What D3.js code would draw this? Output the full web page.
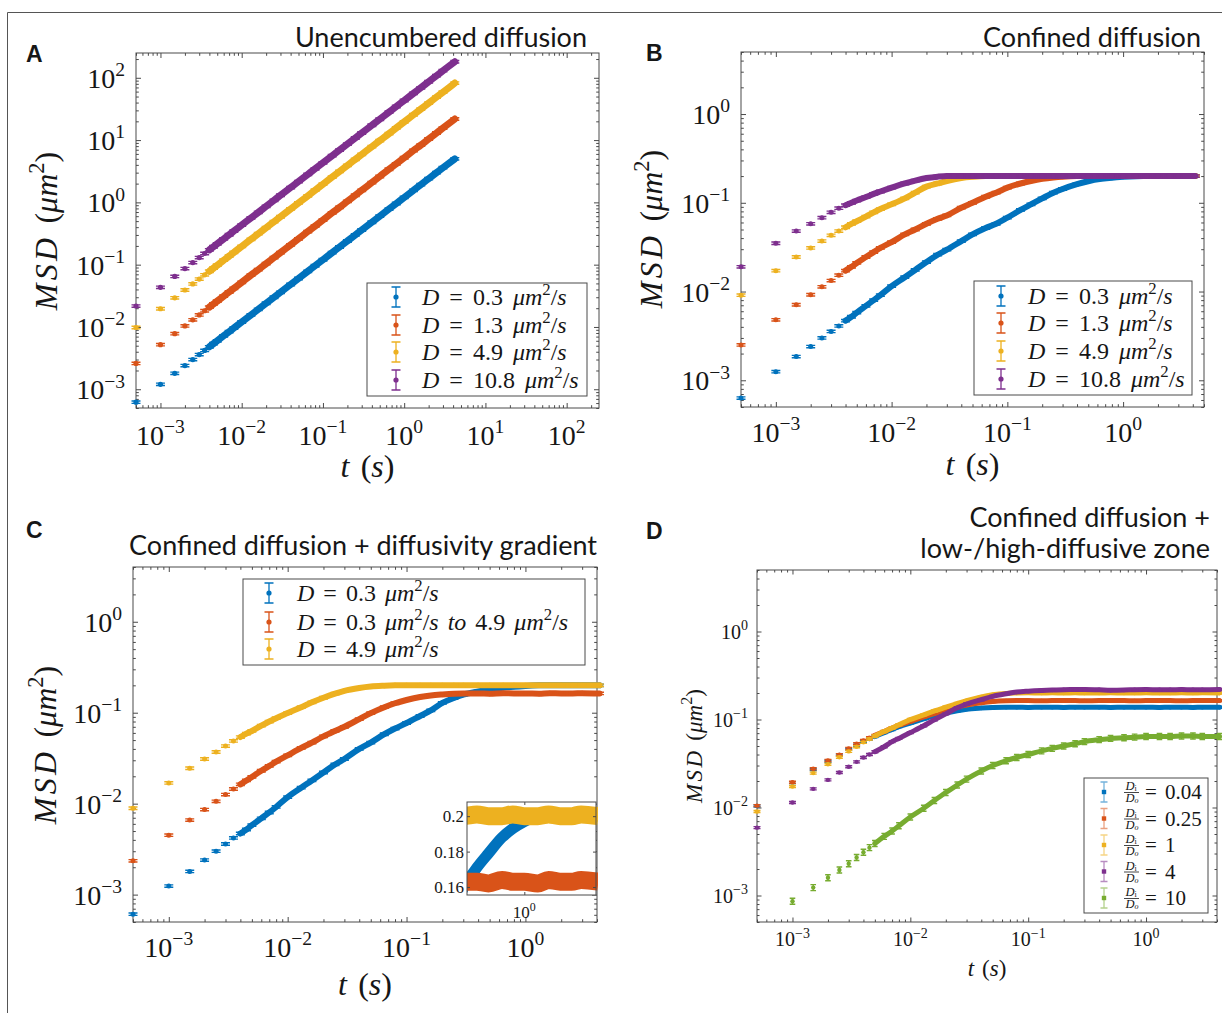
<!DOCTYPE html>
<html>
<head>
<meta charset="utf-8">
<script src="https://cdn.jsdelivr.net/npm/d3@7"></script>
<style>
  body { margin: 0; background: #fff; }
  svg text { fill: #161616; }
</style>
</head>
<body>
<svg id="fig" width="1222" height="1013"></svg>
<script>
// lag times (s), shared by all panels
var times = [0.0005, 0.001, 0.0015, 0.002, 0.0025, 0.003, 0.0035, 0.004, 0.0045, 0.005,
  0.006, 0.007, 0.008, 0.01, 0.013, 0.016, 0.02, 0.025, 0.03, 0.04,
  0.05, 0.065, 0.08, 0.1, 0.13, 0.16, 0.2, 0.25, 0.3, 0.4,
  0.5, 0.65, 0.8, 1, 1.3, 1.6, 2, 2.5, 3, 4.2];

var colors = ["#0072BD", "#D95319", "#EDB120", "#7E2F8E", "#77AC30"];

// A: unencumbered diffusion, MSD (um^2)
var aCoefs = ["0.3", "1.3", "4.9", "10.8"];
var aBlue = [6.2e-4, 1.2e-3, 1.8e-3, 2.4e-3, 3.0e-3, 3.6e-3, 4.2e-3, 4.8e-3, 5.4e-3, 6.0e-3,
  7.2e-3, 8.4e-3, 9.6e-3, 0.012, 0.0156, 0.0192, 0.024, 0.030, 0.036, 0.048,
  0.060, 0.078, 0.096, 0.12, 0.156, 0.192, 0.24, 0.30, 0.36, 0.48,
  0.60, 0.78, 0.96, 1.2, 1.56, 1.92, 2.4, 3.0, 3.6, 5.0];
var aRed = [2.6e-3, 5.2e-3, 7.8e-3, 0.0104, 0.013, 0.0156, 0.0182, 0.0208, 0.0234, 0.026,
  0.0312, 0.0364, 0.0416, 0.052, 0.068, 0.083, 0.104, 0.13, 0.156, 0.208,
  0.26, 0.34, 0.416, 0.52, 0.68, 0.83, 1.04, 1.3, 1.56, 2.08,
  2.6, 3.4, 4.16, 5.2, 6.8, 8.3, 10.4, 13, 15.6, 21.8];
var aYellow = [9.8e-3, 0.0196, 0.0294, 0.0392, 0.049, 0.0588, 0.0686, 0.0784, 0.088, 0.098,
  0.118, 0.137, 0.157, 0.196, 0.255, 0.314, 0.392, 0.49, 0.588, 0.784,
  0.98, 1.27, 1.57, 1.96, 2.55, 3.14, 3.92, 4.9, 5.88, 7.84,
  9.8, 12.7, 15.7, 19.6, 25.5, 31.4, 39.2, 49, 58.8, 82.3];
var aPurple = [0.0216, 0.0432, 0.0648, 0.0864, 0.108, 0.13, 0.151, 0.173, 0.194, 0.216,
  0.259, 0.302, 0.346, 0.432, 0.562, 0.691, 0.864, 1.08, 1.3, 1.73,
  2.16, 2.81, 3.46, 4.32, 5.62, 6.91, 8.64, 10.8, 13, 17.3,
  21.6, 28.1, 34.6, 43.2, 56.2, 69.1, 86.4, 108, 130, 181];

// B: confined diffusion
var bBlue = [6.3e-4, 1.25e-3, 1.85e-3, 2.4e-3, 3.0e-3, 3.55e-3, 4.1e-3, 4.7e-3, 5.2e-3, 5.8e-3,
  6.9e-3, 8.0e-3, 9.1e-3, 0.0115, 0.0145, 0.0175, 0.0215, 0.026, 0.0296, 0.037,
  0.044, 0.052, 0.058, 0.068, 0.083, 0.096, 0.112, 0.13, 0.143, 0.162,
  0.175, 0.186, 0.192, 0.196, 0.199, 0.2, 0.201, 0.2, 0.2, 0.2];
var bRed = [2.5e-3, 4.8e-3, 7.1e-3, 9.2e-3, 0.0113, 0.0133, 0.0153, 0.0172, 0.019, 0.021,
  0.0245, 0.0278, 0.031, 0.036, 0.044, 0.05, 0.058, 0.066, 0.072, 0.088,
  0.1, 0.117, 0.13, 0.148, 0.165, 0.176, 0.186, 0.193, 0.197, 0.2,
  0.2, 0.201, 0.2, 0.2, 0.201, 0.2, 0.2, 0.201, 0.2, 0.2];
var bYellow = [9.1e-3, 0.0172, 0.0245, 0.031, 0.037, 0.043, 0.048, 0.053, 0.058, 0.062,
  0.07, 0.078, 0.085, 0.096, 0.112, 0.13, 0.152, 0.165, 0.176, 0.19,
  0.196, 0.2, 0.2, 0.201, 0.2, 0.2, 0.201, 0.2, 0.2, 0.2,
  0.201, 0.2, 0.2, 0.2, 0.201, 0.2, 0.2, 0.2, 0.201, 0.2];
var bPurple = [0.019, 0.035, 0.048, 0.058, 0.068, 0.078, 0.087, 0.094, 0.1, 0.106,
  0.116, 0.126, 0.134, 0.148, 0.165, 0.178, 0.19, 0.197, 0.2, 0.2,
  0.201, 0.2, 0.2, 0.2, 0.201, 0.2, 0.2, 0.2, 0.2, 0.201,
  0.2, 0.2, 0.2, 0.201, 0.2, 0.2, 0.2, 0.2, 0.2, 0.2];

// C: confined diffusion + diffusivity gradient
var cBlue = [6.1e-4, 1.24e-3, 1.8e-3, 2.4e-3, 3.0e-3, 3.6e-3, 4.2e-3, 4.7e-3, 5.2e-3, 5.8e-3,
  6.9e-3, 8.0e-3, 9.2e-3, 0.0118, 0.015, 0.018, 0.022, 0.027, 0.031, 0.04,
  0.047, 0.058, 0.067, 0.077, 0.092, 0.106, 0.128, 0.145, 0.158, 0.171,
  0.179, 0.188, 0.193, 0.197, 0.2, 0.201, 0.201, 0.2, 0.201, 0.2];
var cRed = [2.35e-3, 4.5e-3, 6.6e-3, 8.6e-3, 0.0106, 0.0126, 0.0145, 0.0163, 0.018, 0.0197,
  0.023, 0.026, 0.029, 0.034, 0.041, 0.047, 0.055, 0.063, 0.07, 0.085,
  0.099, 0.115, 0.127, 0.138, 0.149, 0.155, 0.159, 0.162, 0.163, 0.163,
  0.162, 0.164, 0.163, 0.163, 0.162, 0.164, 0.163, 0.163, 0.164, 0.163];
var cYellow = [8.9e-3, 0.0169, 0.0245, 0.031, 0.037, 0.043, 0.049, 0.054, 0.059, 0.063,
  0.072, 0.08, 0.087, 0.099, 0.115, 0.13, 0.146, 0.162, 0.174, 0.187,
  0.194, 0.198, 0.2, 0.201, 0.2, 0.2, 0.201, 0.2, 0.2, 0.201,
  0.2, 0.2, 0.201, 0.2, 0.2, 0.201, 0.2, 0.2, 0.201, 0.2];

// D: confined diffusion + low-/high-diffusive zone, ratio Di/Do
var dRatios = ["0.04", "0.25", "1", "4", "10"];
var dBlue = [0.0104, 0.0192, 0.027, 0.0335, 0.0395, 0.046, 0.051, 0.056, 0.06, 0.064,
  0.071, 0.077, 0.083, 0.091, 0.102, 0.11, 0.118, 0.126, 0.131, 0.135,
  0.137, 0.138, 0.138, 0.137, 0.138, 0.138, 0.137, 0.138, 0.138, 0.138,
  0.137, 0.138, 0.138, 0.138, 0.137, 0.138, 0.138, 0.137, 0.138, 0.138];
var dRed = [0.0105, 0.0194, 0.0276, 0.0342, 0.0397, 0.047, 0.053, 0.058, 0.062, 0.066,
  0.073, 0.08, 0.086, 0.095, 0.107, 0.117, 0.128, 0.139, 0.146, 0.155,
  0.16, 0.163, 0.164, 0.164, 0.163, 0.164, 0.164, 0.164, 0.163, 0.164,
  0.164, 0.164, 0.163, 0.164, 0.164, 0.164, 0.163, 0.164, 0.164, 0.164];
var dYellow = [9.0e-3, 0.0173, 0.0246, 0.031, 0.0373, 0.0434, 0.049, 0.055, 0.06, 0.065,
  0.073, 0.08, 0.087, 0.1, 0.113, 0.125, 0.138, 0.152, 0.164, 0.181,
  0.191, 0.198, 0.2, 0.201, 0.2, 0.201, 0.2, 0.201, 0.2, 0.2,
  0.201, 0.2, 0.2, 0.201, 0.2, 0.2, 0.201, 0.2, 0.201, 0.2];
var dPurple = [5.9e-3, 0.0114, 0.0163, 0.0206, 0.025, 0.029, 0.033, 0.037, 0.04, 0.043,
  0.049, 0.056, 0.061, 0.071, 0.085, 0.099, 0.116, 0.136, 0.15, 0.168,
  0.183, 0.196, 0.205, 0.21, 0.214, 0.216, 0.218, 0.219, 0.22, 0.218,
  0.215, 0.216, 0.218, 0.219, 0.218, 0.218, 0.219, 0.218, 0.218, 0.219];
var dGreen = [null, 8.6e-4, 1.23e-3, 1.59e-3, 1.95e-3, 2.3e-3, 2.7e-3, 3.1e-3, 3.5e-3, 3.9e-3,
  4.7e-3, 5.4e-3, 6.2e-3, 7.8e-3, 9.8e-3, 0.012, 0.0148, 0.018, 0.021, 0.026,
  0.03, 0.034, 0.037, 0.04, 0.044, 0.047, 0.05, 0.053, 0.056, 0.059,
  0.061, 0.062, 0.063, 0.064, 0.064, 0.064, 0.065, 0.065, 0.064, 0.064];

// inset of C
var insetYTicks = [0.16, 0.18, 0.2];

var svg = d3.select("#fig");
var serif = "'Liberation Serif', 'Times New Roman', serif";
var sans = "Lato, 'Open Sans', sans-serif";
var axisColor = "#4a4a4a";

// outer frame (partly cropped)
svg.append("path").attr("d", "M7.5,1013 V12.5 H1222").attr("fill", "none").attr("stroke", "#555").attr("stroke-width", 1);

function minorTicks(domain) {
  var out = [];
  var lo = Math.floor(Math.log10(domain[0])), hi = Math.ceil(Math.log10(domain[1]));
  for (var e = lo; e <= hi; e++) {
    for (var m = 2; m < 10; m++) {
      var v = m * Math.pow(10, e);
      if (v >= domain[0] && v <= domain[1]) out.push(v);
    }
  }
  return out;
}

// text made of pieces: "i:..." italic, "^..." superscript, else roman
function rich(t, pieces, fs) {
  var up = false;
  pieces.forEach(function (p) {
    var s = t.append("tspan");
    if (p[0] === "^") {
      s.text(p.slice(1)).attr("font-size", fs * 0.7).attr("dy", -fs * 0.42);
      up = true;
      return;
    }
    if (up) { s.attr("dy", fs * 0.42); up = false; }
    if (p.indexOf("i:") === 0) s.attr("font-style", "italic").text(p.slice(2));
    else s.text(p);
  });
}

function powText(e) { return ["10", "^" + (e < 0 ? "\u2212" + (-e) : e)]; }

function drawAxes(g, x, y, p) {
  var w = p.right - p.left, h = p.bottom - p.top;
  var xMaj = p.xExp.map(function (e) { return Math.pow(10, e); });
  var yMaj = p.yExp.map(function (e) { return Math.pow(10, e); });
  var xMin = minorTicks(x.domain()), yMin = minorTicks(y.domain());
  var specs = [
    [d3.axisBottom(x), "translate(0," + p.bottom + ")", xMaj, xMin],
    [d3.axisTop(x), "translate(0," + p.top + ")", xMaj, xMin],
    [d3.axisLeft(y), "translate(" + p.left + ",0)", yMaj, yMin],
    [d3.axisRight(y), "translate(" + p.right + ",0)", yMaj, yMin]
  ];
  specs.forEach(function (s) {
    [[s[2], p.majLen], [s[3], p.minLen]].forEach(function (tk) {
      var a = g.append("g").attr("transform", s[1])
        .call(s[0].tickValues(tk[0]).tickSize(-tk[1]).tickSizeOuter(0).tickFormat(""));
      a.select(".domain").remove();
      a.selectAll("line").attr("stroke", axisColor);
    });
  });
  g.append("rect").attr("x", p.left).attr("y", p.top).attr("width", w).attr("height", h)
    .attr("fill", "none").attr("stroke", axisColor).attr("stroke-width", 1);

  // tick labels
  g.append("g").selectAll("text").data(p.xExp).join("text")
    .attr("x", function (e) { return x(Math.pow(10, e)); })
    .attr("y", p.bottom + p.xLabOff)
    .attr("text-anchor", "middle").attr("font-family", serif).attr("font-size", p.tickFs)
    .each(function (e) { rich(d3.select(this), powText(e), p.tickFs); });
  g.append("g").selectAll("text").data(p.yExp).join("text")
    .attr("x", p.left - p.yLabGap)
    .attr("y", function (e) { return y(Math.pow(10, e)) + p.tickFs * 0.36; })
    .attr("text-anchor", "end").attr("font-family", serif).attr("font-size", p.tickFs)
    .each(function (e) { rich(d3.select(this), powText(e), p.tickFs); });

  // axis titles
  var xt = g.append("text").attr("x", (p.left + p.right) / 2).attr("y", p.xTitleY)
    .attr("text-anchor", "middle").attr("font-family", serif).attr("font-size", p.titleFs)
    .attr("word-spacing", p.titleFs * 0.1);
  rich(xt, ["i:t", " (", "i:s", ")"], p.titleFs);
  var yt = g.append("text")
    .attr("transform", "translate(" + p.yTitleX + "," + p.yTitleY + ") rotate(-90)")
    .attr("text-anchor", "middle").attr("font-family", serif).attr("font-size", p.titleFs)
    .attr("word-spacing", p.titleFs * 0.1);
  rich(yt, ["i:M", "i:S", "i:D", " (", "i:μm", "^2", ")"], p.titleFs);
  yt.selectAll("tspan").filter(function (d, i) { return i < 3; }).attr("letter-spacing", p.titleFs * 0.1);
}

function drawSeries(g, x, y, vals, color, o) {
  var pts = [];
  times.forEach(function (t, i) { if (vals[i] != null) pts.push([t, vals[i]]); });
  var band = pts.filter(function (d) { return d[0] >= o.bandFrom; });
  g.append("path").datum(band)
    .attr("d", d3.line().x(function (d) { return x(d[0]); }).y(function (d) { return y(d[1]); }).curve(d3.curveMonotoneX))
    .attr("fill", "none").attr("stroke", color).attr("stroke-width", o.band)
    .attr("stroke-linecap", "round").attr("stroke-linejoin", "round");
  var m = g.append("g").selectAll("g").data(pts).join("g")
    .attr("transform", function (d) { return "translate(" + x(d[0]) + "," + y(d[1]) + ")"; });
  m.append("path")
    .attr("d", "M0," + (-o.eb) + "V" + o.eb + "M" + (-o.cap) + "," + (-o.eb) + "H" + o.cap + "M" + (-o.cap) + "," + o.eb + "H" + o.cap)
    .attr("stroke", color).attr("stroke-width", 1.4).attr("fill", "none");
  m.append("circle").attr("r", o.r).attr("fill", color);
}

function legendBox(g, x0, y0, x1, y1) {
  g.append("rect").attr("x", x0).attr("y", y0).attr("width", x1 - x0).attr("height", y1 - y0)
    .attr("fill", "#fff").attr("stroke", axisColor).attr("stroke-width", 1);
}

function legendSymbol(g, cx, cy, color, half, cap, light, square) {
  g.append("path")
    .attr("d", "M" + cx + "," + (cy - half) + "V" + (cy + half) + "M" + (cx - cap) + "," + (cy - half) + "H" + (cx + cap) + "M" + (cx - cap) + "," + (cy + half) + "H" + (cx + cap))
    .attr("stroke", color).attr("stroke-width", 1.3).attr("fill", "none").attr("opacity", light ? 0.55 : 1);
  if (square) g.append("rect").attr("x", cx - 2.2).attr("y", cy - 2.2).attr("width", 4.4).attr("height", 4.4).attr("fill", color);
  else g.append("circle").attr("cx", cx).attr("cy", cy).attr("r", 2.6).attr("fill", color);
}

function panelTitle(lines, anchor, xPos, ys, fs) {
  lines.forEach(function (l, i) {
    svg.append("text").attr("x", xPos).attr("y", ys[i]).attr("text-anchor", anchor)
      .attr("font-family", sans).attr("font-size", fs).text(l);
  });
}
function panelLetter(l, xPos, yPos) {
  svg.append("text").attr("x", xPos).attr("y", yPos).attr("font-family", "'Liberation Sans', Arial, sans-serif")
    .attr("font-weight", "bold").attr("font-size", 23).text(l);
}

var bigAxis = { majLen: 5, minLen: 2.8, tickFs: 28, titleFs: 32, yLabGap: 11 };
var legFs = 24, legWs = 4;

// ---------- Panel A ----------
(function () {
  var p = Object.assign({}, bigAxis, {
    left: 136, right: 599, top: 53, bottom: 408,
    xExp: [-3, -2, -1, 0, 1, 2], yExp: [-3, -2, -1, 0, 1, 2],
    xLabOff: 37, xTitleY: 477, yTitleX: 57, yTitleY: 231
  });
  var x = d3.scaleLog().domain([5e-4, 250]).range([p.left, p.right]);
  var y = d3.scaleLog().domain([5e-4, 250]).range([p.bottom, p.top]);
  var g = svg.append("g");
  drawAxes(g, x, y, p);
  [aBlue, aRed, aYellow, aPurple].forEach(function (s, i) {
    drawSeries(g, x, y, s, colors[i], { bandFrom: 0.004, band: 7, r: 2.6, eb: 1.2, cap: 4.5 });
  });
  legendBox(g, 367, 283, 587, 396);
  var ly = [297, 325, 352, 380];
  aCoefs.forEach(function (c, i) {
    legendSymbol(g, 396, ly[i], colors[i], 10, 4.5);
    var t = g.append("text").attr("x", 422).attr("y", ly[i] + 8).attr("font-family", serif)
      .attr("font-size", legFs).attr("word-spacing", legWs);
    rich(t, ["i:D", " = " + c + " ", "i:μm", "^2", "/", "i:s"], legFs);
  });
  panelTitle(["Unencumbered diffusion"], "end", 587, [47], 27);
  panelLetter("A", 26, 62);
})();

// ---------- Panel B ----------
(function () {
  var p = Object.assign({}, bigAxis, {
    left: 741, right: 1204, top: 52, bottom: 407,
    xExp: [-3, -2, -1, 0], yExp: [-3, -2, -1, 0],
    xLabOff: 35, xTitleY: 475, yTitleX: 662, yTitleY: 229
  });
  var x = d3.scaleLog().domain([5e-4, 5]).range([p.left, p.right]);
  var y = d3.scaleLog().domain([5e-4, 5]).range([p.bottom, p.top]);
  var g = svg.append("g");
  drawAxes(g, x, y, p);
  [bBlue, bRed, bYellow, bPurple].forEach(function (s, i) {
    drawSeries(g, x, y, s, colors[i], { bandFrom: 0.004, band: 6, r: 2.5, eb: 1.2, cap: 4.5 });
  });
  legendBox(g, 974, 281, 1192, 395);
  var ly = [296, 323, 351, 379];
  aCoefs.forEach(function (c, i) {
    legendSymbol(g, 1001, ly[i], colors[i], 10, 4.5);
    var t = g.append("text").attr("x", 1028).attr("y", ly[i] + 8).attr("font-family", serif)
      .attr("font-size", legFs).attr("word-spacing", legWs);
    rich(t, ["i:D", " = " + c + " ", "i:μm", "^2", "/", "i:s"], legFs);
  });
  panelTitle(["Confined diffusion"], "end", 1201, [47], 27);
  panelLetter("B", 646, 61);
})();

// ---------- Panel C ----------
(function () {
  var p = Object.assign({}, bigAxis, {
    left: 133, right: 597, top: 567, bottom: 922,
    xExp: [-3, -2, -1, 0], yExp: [-3, -2, -1, 0],
    xLabOff: 35, xTitleY: 995, yTitleX: 56, yTitleY: 745
  });
  var x = d3.scaleLog().domain([5e-4, 4]).range([p.left, p.right]);
  var y = d3.scaleLog().domain([5e-4, 4]).range([p.bottom, p.top]);
  var g = svg.append("g");
  drawAxes(g, x, y, p);
  var cSeries = [cBlue, cRed, cYellow];
  cSeries.forEach(function (s, i) {
    drawSeries(g, x, y, s, colors[i], { bandFrom: 0.004, band: 6, r: 2.5, eb: 1.2, cap: 4.5 });
  });
  legendBox(g, 243, 579, 585, 665);
  var ly = [593, 622, 649];
  var lt = [
    ["i:D", " = 0.3 ", "i:μm", "^2", "/", "i:s"],
    ["i:D", " = 0.3 ", "i:μm", "^2", "/", "i:s", " ", "i:to", " 4.9 ", "i:μm", "^2", "/", "i:s"],
    ["i:D", " = 4.9 ", "i:μm", "^2", "/", "i:s"]
  ];
  lt.forEach(function (pc, i) {
    legendSymbol(g, 269, ly[i], colors[i], 10, 4.5);
    var t = g.append("text").attr("x", 297).attr("y", ly[i] + 8).attr("font-family", serif)
      .attr("font-size", legFs).attr("word-spacing", 3);
    rich(t, pc, legFs);
  });

  // inset
  var ib = { left: 467, right: 596, top: 802, bottom: 895 };
  var ix = d3.scaleLog().domain([0.33, 4]).range([ib.left, ib.right]);
  var iy = d3.scaleLinear().domain([0.1555, 0.208]).range([ib.bottom, ib.top]);
  var ig = g.append("g");
  ig.append("rect").attr("x", ib.left).attr("y", ib.top).attr("width", ib.right - ib.left)
    .attr("height", ib.bottom - ib.top).attr("fill", "#fff");
  ig.append("clipPath").attr("id", "insetClip").append("rect")
    .attr("x", ib.left).attr("y", ib.top - 2).attr("width", ib.right - ib.left + 2).attr("height", ib.bottom - ib.top + 4);
  var idata = ig.append("g").attr("clip-path", "url(#insetClip)");
  var iw = [11, 18, 18];
  cSeries.forEach(function (s, i) {
    var pts = [];
    times.forEach(function (t, k) { pts.push([t, s[k]]); });
    idata.append("path").datum(pts)
      .attr("d", d3.line().x(function (d) { return ix(d[0]); }).y(function (d) { return iy(d[1]); }).curve(d3.curveMonotoneX))
      .attr("fill", "none").attr("stroke", colors[i]).attr("stroke-width", iw[i]);
  });
  [[d3.axisBottom(ix), "translate(0," + ib.bottom + ")", [1]], [d3.axisTop(ix), "translate(0," + ib.top + ")", [1]],
   [d3.axisLeft(iy), "translate(" + ib.left + ",0)", insetYTicks], [d3.axisRight(iy), "translate(" + ib.right + ",0)", insetYTicks]]
    .forEach(function (s) {
      var a = ig.append("g").attr("transform", s[1]).call(s[0].tickValues(s[2]).tickSize(-3).tickSizeOuter(0).tickFormat(""));
      a.select(".domain").remove();
      a.selectAll("line").attr("stroke", axisColor);
    });
  ig.append("rect").attr("x", ib.left).attr("y", ib.top).attr("width", ib.right - ib.left)
    .attr("height", ib.bottom - ib.top).attr("fill", "none").attr("stroke", axisColor);
  ig.selectAll("text.iy").data(insetYTicks).join("text").attr("class", "iy")
    .attr("x", ib.left - 3).attr("y", function (v) { return iy(v) + 6; })
    .attr("text-anchor", "end").attr("font-family", serif).attr("font-size", 17)
    .text(function (v) { return d3.format("")(v); });
  var it = ig.append("text").attr("x", ix(1)).attr("y", 918).attr("text-anchor", "middle")
    .attr("font-family", serif).attr("font-size", 17);
  rich(it, powText(0), 17);

  panelTitle(["Confined diffusion + diffusivity gradient"], "end", 597, [555], 27);
  panelLetter("C", 26, 538);
})();

// ---------- Panel D ----------
(function () {
  var p = {
    left: 757, right: 1217, top: 570, bottom: 922, majLen: 4.5, minLen: 2.5,
    tickFs: 20, titleFs: 23, yLabGap: 9,
    xExp: [-3, -2, -1, 0], yExp: [-3, -2, -1, 0],
    xLabOff: 24, xTitleY: 976, yTitleX: 702, yTitleY: 746
  };
  var x = d3.scaleLog().domain([5e-4, 4]).range([p.left, p.right]);
  var y = d3.scaleLog().domain([5e-4, 5]).range([p.bottom, p.top]);
  var g = svg.append("g");
  drawAxes(g, x, y, p);
  [dBlue, dRed, dYellow, dPurple, dGreen].forEach(function (s, i) {
    var green = i === 4;
    drawSeries(g, x, y, s, colors[i], {
      bandFrom: 0.005, band: 5, r: 2.2, eb: green ? 3 : 1, cap: green ? 2.8 : 3.5
    });
  });
  legendBox(g, 1084, 778, 1208, 913);
  var ly = [792, 818.5, 845, 871.5, 898];
  dRatios.forEach(function (r, i) {
    var cy = ly[i];
    legendSymbol(g, 1104, cy, colors[i], 10, 3.5, true, true);
    g.append("line").attr("x1", 1124).attr("x2", 1139).attr("y1", cy + 0.5).attr("y2", cy + 0.5)
      .attr("stroke", "#161616").attr("stroke-width", 0.8);
    // one text per entry: Di over Do, then "= ratio"
    var t = g.append("text").attr("font-family", serif).attr("font-size", 21);
    t.append("tspan").attr("x", 1125.5).attr("y", cy - 2).attr("font-size", 12.5).attr("font-style", "italic").text("D");
    t.append("tspan").attr("font-size", 8).attr("dy", 1.2).text("i");
    t.append("tspan").attr("x", 1125.5).attr("y", cy + 10).attr("font-size", 12.5).attr("font-style", "italic").text("D");
    t.append("tspan").attr("font-size", 8).attr("font-style", "italic").attr("dy", 1.2).text("o");
    t.append("tspan").attr("x", 1145).attr("y", cy + 7).attr("word-spacing", 3).text("= " + r);
  });
  panelTitle(["Confined diffusion +", "low-/high-diffusive zone"], "end", 1210, [527, 558], 27);
  panelLetter("D", 646, 539);
})();
</script>
</body>
</html>
